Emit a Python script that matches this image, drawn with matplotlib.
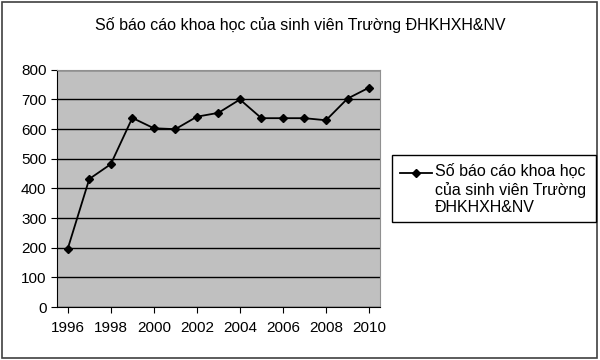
import matplotlib.pyplot as plt
from matplotlib.patches import Rectangle
from matplotlib.lines import Line2D

# data
years = [1996, 1997, 1998, 1999, 2000, 2001, 2002, 2003, 2004, 2005, 2006, 2007, 2008, 2009, 2010]
reports = [197, 432, 482, 638, 603, 600, 642, 655, 700, 637, 637, 637, 630, 703, 740]
year_labels = ['1996', '1998', '2000', '2002', '2004', '2006', '2008', '2010']

title = "Số báo cáo khoa học của sinh viên Trường ĐHKHXH&NV"
legend_text = "Số báo cáo khoa học\ncủa sinh viên Trường\nĐHKHXH&NV"

plt.rcParams['font.family'] = ['Liberation Sans', 'DejaVu Sans']

W, H = 600.0, 360.0
fig = plt.figure(figsize=(6, 3.6), dpi=100)
fig.patch.set_facecolor('white')
# outer chart frame
fig.add_artist(Rectangle((0.003, 0.005), 0.992, 0.99, transform=fig.transFigure,
                         fill=False, edgecolor='#404040', linewidth=1.2))

ax = fig.add_axes([0.095, 0.147, 0.538, 0.659])
ax.set_facecolor('#C0C0C0')

x = list(range(len(years)))
ax.plot(x, reports, color='black', linewidth=1.3, marker='D', markersize=4,
        markerfacecolor='black', zorder=3)

ax.set_xlim(-0.5, len(years) - 0.5)
ax.set_ylim(0, 800)
ax.set_yticks(range(0, 801, 100))
ax.yaxis.grid(True, color='black', linewidth=1)
ax.set_axisbelow(True)

ticks = [years.index(int(t)) for t in year_labels]
ax.set_xticks(ticks)
ax.set_xticklabels(year_labels)
ax.tick_params(axis='both', labelsize=11, length=4, direction='out')
ax.tick_params(axis='x', pad=6)

for side in ['top', 'right']:
    ax.spines[side].set_color('#909090')
ax.spines['left'].set_color('black')
ax.spines['bottom'].set_color('black')

fig.text(0.5, 1 - 25 / H, title, ha='center', va='center', fontsize=11.5)

# legend box, handle aligned with the first text line as in the original
fig.add_artist(Rectangle((392 / W, 1 - 222 / H), 204 / W, 67 / H, transform=fig.transFigure,
                         fill=False, edgecolor='black', linewidth=1))
fig.add_artist(Line2D([400 / W, 432 / W], [1 - 173 / H, 1 - 173 / H], transform=fig.transFigure,
                      color='black', linewidth=1.3))
fig.add_artist(Line2D([416 / W], [1 - 173 / H], transform=fig.transFigure,
                      color='black', marker='D', markersize=4, linestyle='none'))
fig.text(435 / W, 1 - 164 / H, legend_text, ha='left', va='top', fontsize=11.5,
         linespacing=1.2)

fig.savefig('out.png', dpi=100)
